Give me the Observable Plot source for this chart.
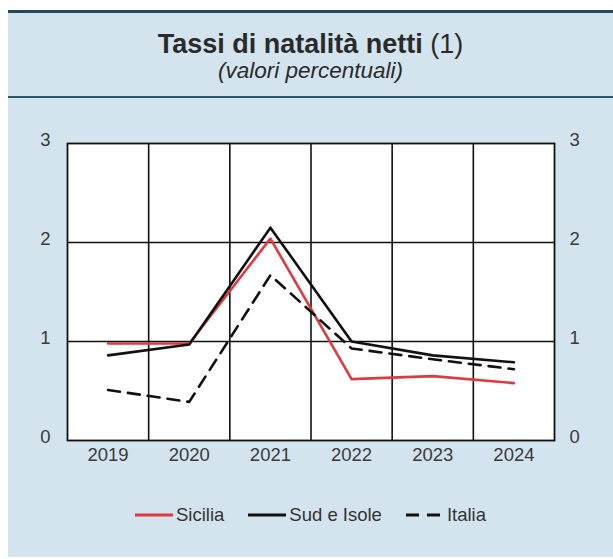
<!DOCTYPE html>
<html>
<head>
<meta charset="utf-8">
<script src="https://cdn.jsdelivr.net/npm/d3@7"></script>
<script src="https://cdn.jsdelivr.net/npm/@observablehq/plot@0.6"></script>
<style>
  html, body { margin: 0; padding: 0; background: #ffffff; }
  body { width: 613px; height: 559px; position: relative; overflow: hidden; font-family: "Liberation Sans", Arial, sans-serif; }
  #panel { position: absolute; left: 8px; top: 10px; width: 605px; height: 547px; background: #d3e4ee; border-top: 3px solid #1d4a5d; box-sizing: border-box; }
  #sep { position: absolute; left: 8px; top: 96px; width: 605px; height: 2px; background: #2b5566; }
  #title { position: absolute; left: 8px; width: 605px; top: 31px; text-align: center; font-size: 27px; font-weight: bold; color: #2a2a2a; line-height: 1; }
  #title span { font-weight: normal; }
  #subtitle { position: absolute; left: 8px; width: 605px; top: 60px; text-align: center; font-size: 22.5px; font-style: italic; color: #2a2a2a; line-height: 1; }
  #chart { position: absolute; left: 0; top: 0; }
  #legend { position: absolute; left: 8px; width: 605px; top: 504px; display: flex; justify-content: center; align-items: center; font-size: 18.5px; color: #333; }
  .item { display: flex; align-items: center; margin: 0 12px; }
  .item svg { margin-right: 3px; }
</style>
</head>
<body>
<div id="panel"></div>
<div id="sep"></div>
<div id="title">Tassi di natalità netti <span>(1)</span></div>
<div id="subtitle">(valori percentuali)</div>
<div id="chart"></div>
<div id="legend"></div>
<script>
const years = [2019, 2020, 2021, 2022, 2023, 2024];
const sicilia = [0.98, 0.98, 2.04, 0.62, 0.65, 0.58];
const sudIsole = [0.86, 0.97, 2.15, 1.00, 0.86, 0.79];
const italia = [0.51, 0.39, 1.67, 0.93, 0.82, 0.72];
const yTicks = [0, 1, 2, 3];

const seriesNames = ["Sicilia", "Sud e Isole", "Italia"];
const seriesColors = ["#e0393e", "#111111", "#111111"];
const seriesDash = [null, null, "12,8"];
const seriesValues = [sicilia, sudIsole, italia];

const rows = [];
seriesNames.forEach((name, i) => {
  years.forEach((y, j) => rows.push({ series: name, year: y, value: seriesValues[i][j] }));
});
const boundaries = years.slice(0, -1).map(y => y + 0.5);

const textColor = "#3a3a3a";
const plot = Plot.plot({
  width: 613,
  height: 480,
  marginTop: 143,
  marginBottom: 40,
  marginLeft: 67,
  marginRight: 59,
  style: { background: "transparent", fontFamily: "Liberation Sans, Arial, sans-serif", fontSize: "18.5px", color: textColor },
  x: { domain: [years[0] - 0.5, years[years.length - 1] + 0.5] },
  y: { domain: [yTicks[0], yTicks[yTicks.length - 1]] },
  marks: [
    Plot.frame({ fill: "white", stroke: "none" }),
    Plot.ruleX(boundaries, { stroke: "#111", strokeWidth: 1.6 }),
    Plot.ruleY(yTicks.slice(1, -1), { stroke: "#111", strokeWidth: 1.6 }),
    Plot.frame({ stroke: "#111", strokeWidth: 1.8 }),
    ...seriesNames.map((name, i) => Plot.line(rows.filter(r => r.series === name), {
      x: "year", y: "value", stroke: seriesColors[i], strokeWidth: 2.6,
      strokeDasharray: seriesDash[i] || undefined
    })),
    Plot.axisX(years, { tickSize: 0, tickPadding: 7, tickFormat: d => String(d), fill: textColor, label: null }),
    Plot.axisY(yTicks, { anchor: "left", tickSize: 0, tickPadding: 17, dy: -3, tickFormat: d => String(d), fill: textColor, label: null }),
    Plot.axisY(yTicks, { anchor: "right", tickSize: 0, tickPadding: 15, dy: -3, tickFormat: d => String(d), fill: textColor, label: null })
  ]
});
document.getElementById("chart").appendChild(plot);

const legend = document.getElementById("legend");
seriesNames.forEach((name, i) => {
  const item = document.createElement("div");
  item.className = "item";
  const dash = seriesDash[i] ? `stroke-dasharray="13,8"` : "";
  item.innerHTML = `<svg width="38" height="6"><line x1="0" y1="3" x2="38" y2="3" stroke="${seriesColors[i]}" stroke-width="3" ${dash}/></svg><span>${name}</span>`;
  legend.appendChild(item);
});
</script>
</body>
</html>
